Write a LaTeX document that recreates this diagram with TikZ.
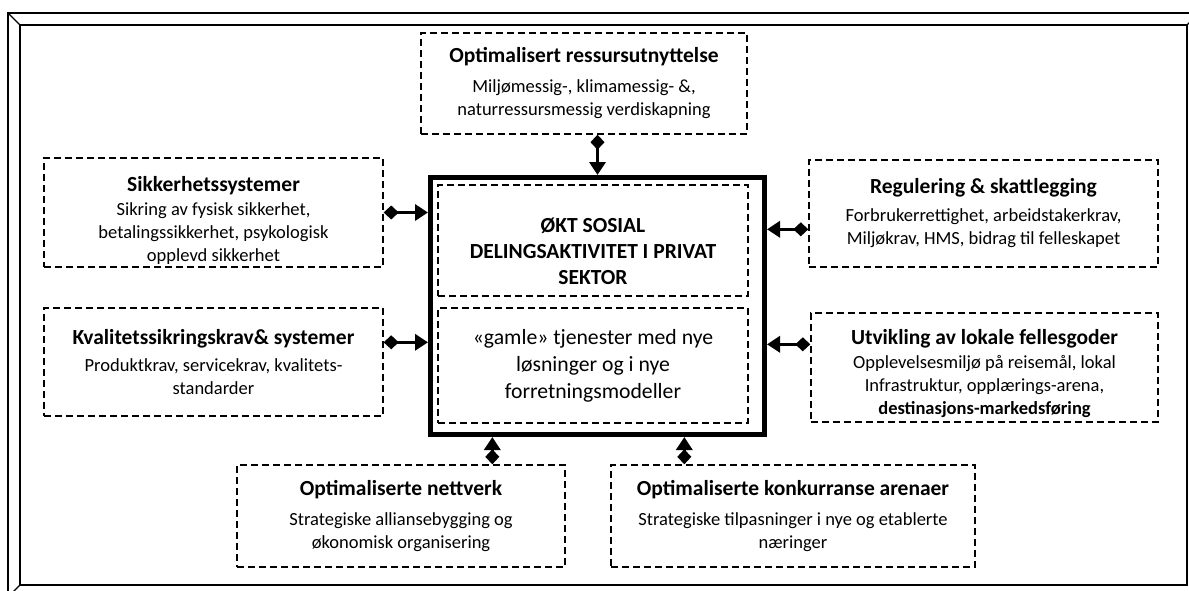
\documentclass[tikz,border=0pt]{standalone}
\usepackage{fontspec}
\setmainfont{Carlito}
\usetikzlibrary{arrows.meta,calc}
\newcommand{\titlefont}{\bfseries\fontsize{21.5}{26}\selectfont}
\newcommand{\bodyfont}{\fontsize{18.5}{23}\selectfont}
\newcommand{\corefont}{\fontsize{21.7}{27}\selectfont}
\tikzset{
  dashbox/.style={draw,dash pattern=on 7pt off 4pt,line width=1.4pt,align=center,inner sep=0pt,font=\bodyfont},
  boxtext/.style={align=center,inner sep=0pt,font=\bodyfont},
  corebox/.style={draw,line width=5pt,inner sep=0pt},
  link/.style={line width=3.5pt,{Diamond[length=15pt,width=14pt]}-{Triangle[length=13pt,width=16pt]}},
  frameline/.style={line width=1.2pt}
}

\begin{document}
\begin{tikzpicture}[x=1pt,y=-1pt]
  \useasboundingbox (0,0) rectangle (1189,590);
  \clip (0,0) rectangle (1189,590);
  % bevelled frame
  \draw[frameline] (8,597) -- (8,13) -- (1199,13);
  \draw[frameline] (1187,25) -- (20,25) -- (20,585);
  \draw[line width=2pt] (1187,25) -- (1187,585) -- (20,585);
  \draw[frameline] (8,13) -- (20,25) (8,597) -- (20,585) (1199,13) -- (1187,25);

  \node[corebox,minimum width=334pt,minimum height=257pt] (core) at (597.5,306) {};
  \node[dashbox,minimum width=310pt,minimum height=111pt] (sosbox) at (593,240.5) {};
  \node[boxtext,font=\titlefont] (sostxt) at (593,251) {ØKT SOSIAL\\DELINGSAKTIVITET I PRIVAT\\SEKTOR};
  \node[dashbox,minimum width=310pt,minimum height=115pt,font=\corefont] (gamle) at (593,365.5)
    {«gamle» tjenester med nye\\løsninger og i nye\\forretningsmodeller};

  \node[dashbox,minimum width=326pt,minimum height=101pt] (res) at (584,83.5)
    {{\titlefont Optimalisert ressursutnyttelse}\\[7pt]Miljømessig-, klimamessig- \&,\\naturressursmessig verdiskapning};
  \node[dashbox,minimum width=339pt,minimum height=109pt] (sik) at (213.5,212.5) {};
  \begin{scope}
    \clip ([shift={(4,4)}]sik.north west) rectangle ([shift={(-4,-4)}]sik.south east);
    \node[boxtext] (siktxt) at ($(sik.center)+(0,8)$)
      {{\titlefont Sikkerhetssystemer}\\[1pt]Sikring av fysisk sikkerhet,\\betalingssikkerhet, psykologisk\\opplevd sikkerhet};
  \end{scope}
  \node[dashbox,minimum width=339pt,minimum height=108pt] (kval) at (213.5,362)
    {{\titlefont Kvalitetssikringskrav\& systemer}\\[4pt]Produktkrav, servicekrav, kvalitets-\\standarder};
  \node[dashbox,minimum width=349pt,minimum height=107pt] (reg) at (983.5,213.5)
    {{\titlefont Regulering \& skattlegging}\\[5pt]Forbrukerrettighet, arbeidstakerkrav,\\Miljøkrav, HMS, bidrag til felleskapet};
  \node[dashbox,minimum width=347pt,minimum height=109pt] (utv) at (984.5,367.5) {};
  \begin{scope}
    \clip ([shift={(4,4)}]utv.north west) rectangle ([shift={(-4,-4)}]utv.south east);
    \node[boxtext] (utvtxt) at ($(utv.center)+(0,6)$)
      {{\titlefont Utvikling av lokale fellesgoder}\\[1pt]Opplevelsesmiljø på reisemål, lokal\\Infrastruktur, opplærings-arena,\\\textbf{destinasjons-markedsføring}};
  \end{scope}
  \node[dashbox,minimum width=328pt,minimum height=102pt] (net) at (401,516)
    {{\titlefont Optimaliserte nettverk}\\[7pt]Strategiske alliansebygging og\\økonomisk organisering};
  \node[dashbox,minimum width=364pt,minimum height=102pt] (kon) at (793,516)
    {{\titlefont Optimaliserte konkurranse arenaer}\\[7pt]Strategiske tilpasninger i nye og etablerte\\næringer};

  \draw[link] (res.south -| core.north) -- (core.north);
  \draw[link] (sik.east) -- (sik.east -| core.west);
  \draw[link] ($(kval.north east)+(0,35)$) coordinate (k1) -- (k1 -| core.west);
  \draw[link] ($(reg.north west)+(0,70)$) coordinate (r1) -- (r1 -| core.east);
  \draw[link] ($(utv.north west)+(0,32)$) coordinate (u1) -- (u1 -| core.east);
  \draw[link] ($(net.north west)+(256,0)$) coordinate (n1) -- (n1 |- core.south);
  \draw[link] ($(kon.north west)+(74,0)$) coordinate (c1) -- (c1 |- core.south);
\end{tikzpicture}
\end{document}
